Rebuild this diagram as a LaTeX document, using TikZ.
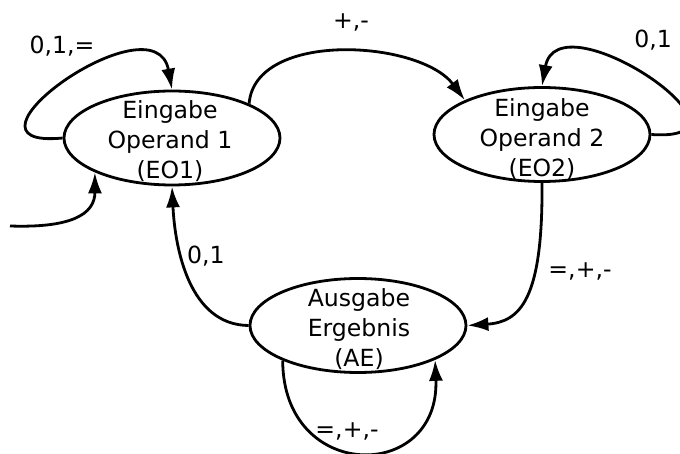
\documentclass[tikz,border=0pt]{standalone}
\usepackage{fontspec}
\setmainfont{DejaVu Sans}
\usetikzlibrary{shapes.geometric,arrows.meta}
\begin{document}
\begin{tikzpicture}[x=0.5pt, y=-0.5pt, font=\fontsize{11.8}{15}\selectfont,
    zustand/.style={draw, ellipse, line width=1.4pt, minimum width=108pt, minimum height=47pt, inner sep=0pt},
    beschr/.style={align=center, inner sep=0pt},
    pfeil/.style={line width=1.4pt, -{Latex[length=10.5pt,width=7pt]}}]
    \useasboundingbox (0,0) rectangle (680,454);
    \node[zustand] (eo1) at (172,138) {};
    \node[beschr] (eo1t) at (170,141) {Eingabe\\Operand 1\\(EO1)};
    \node[zustand] (eo2) at (542,134.5) {};
    \node[beschr] (eo2t) at (542,139) {Eingabe\\Operand 2\\(EO2)};
    \node[zustand] (ae) at (358,325.5) {};
    \node[beschr] (aet) at (359,329) {Ausgabe\\Ergebnis\\(AE)};
    \coordinate (start) at (10,226);
    \draw[pfeil] (eo1.west) .. controls (-60,150) and (155,-5) .. (eo1.north);
    \draw[pfeil] (eo1.24) .. controls (255,30) and (420,40) .. (eo2.156);
    \draw[pfeil] (eo2.east) .. controls (774,143) and (558,-5) .. (eo2.north);
    \draw[pfeil] (start) .. controls (70,228) and (95,215) .. (eo1.204);
    \draw[pfeil] (ae.west) .. controls (190,325) and (175,250) .. (eo1.south);
    \draw[pfeil] (eo2.south) .. controls (543,300) and (520,322) .. (ae.east);
    \draw[pfeil] (ae.205) .. controls (283,483) and (440,483) .. (ae.336);
    \node (l1) at (62,46) {0,1,=};
    \node (l2) at (351,22) {+,-};
    \node[anchor=east] (l3) at (679,40) {0,1};
    \node (l4) at (206,256) {0,1};
    \node (l5) at (580,271) {=,+,-};
    \node (l6) at (347,431) {=,+,-};
\end{tikzpicture}
\end{document}
